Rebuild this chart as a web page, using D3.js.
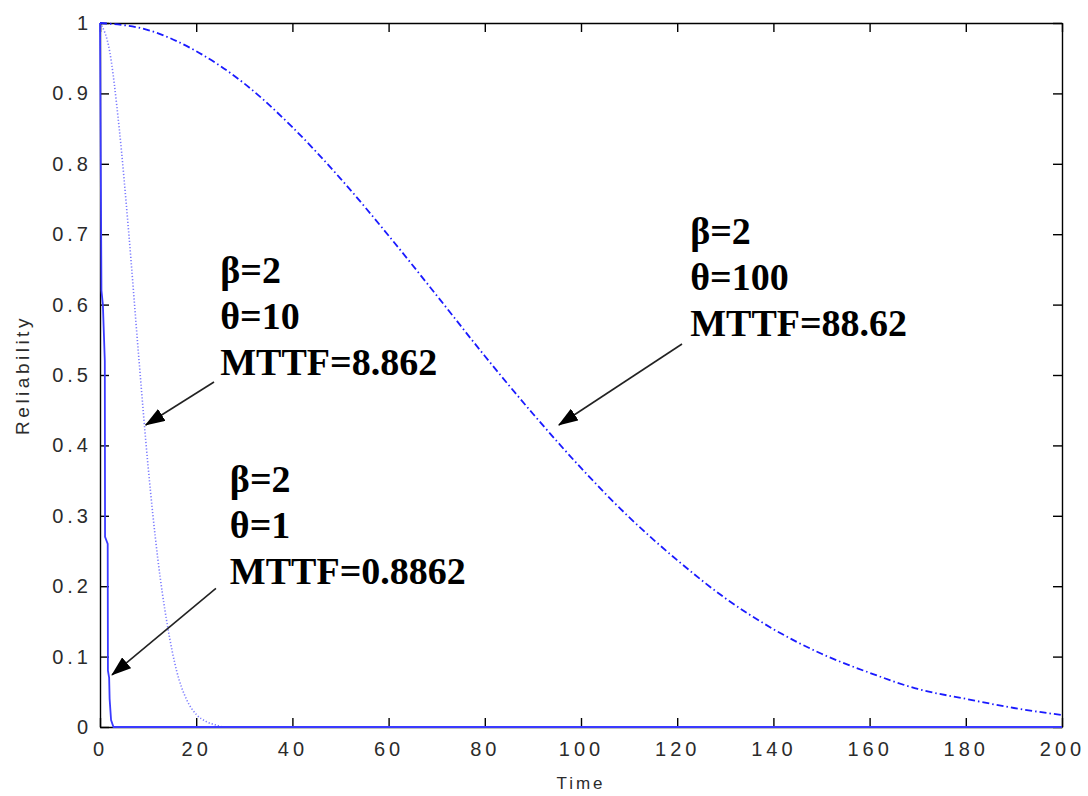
<!DOCTYPE html>
<html>
<head>
<meta charset="utf-8">
<script src="https://cdn.jsdelivr.net/npm/d3@7"></script>
<style>
  body { margin: 0; background: #fff; }
  svg { display: block; }
  .tickLabel text { font-family: "Liberation Sans", Arial, sans-serif; font-size: 20px; fill: #2b2b2b; letter-spacing: 4px; }
  .axisTitle { font-family: "Liberation Sans", Arial, sans-serif; font-size: 17px; fill: #2b2b2b; letter-spacing: 3px; }
  .axisTitle.yTitle { font-size: 19px; letter-spacing: 3.5px; }
  .note { font-family: "Liberation Serif", "Times New Roman", serif; font-size: 38px; font-weight: bold; fill: #000; }
</style>
</head>
<body>
<svg id="chart" width="1088" height="796"></svg>
<script>
// Weibull reliability curves, beta = 2
const timeTicks = [0, 20, 40, 60, 80, 100, 120, 140, 160, 180, 200]
const reliabilityTicks = [0, 0.1, 0.2, 0.3, 0.4, 0.5, 0.6, 0.7, 0.8, 0.9, 1]

// theta = 1, solid
const theta1Time = [0, 0.05, 0.3, 0.6, 1.0, 1.05, 1.6, 1.65, 1.9, 2.0, 2.3, 2.8, 200]
const theta1Rel = [1, 0.945, 0.62, 0.6, 0.52, 0.27, 0.26, 0.08, 0.07, 0.04, 0.01, 0, 0]

// theta = 10, dotted
const theta10Time = [0, 2, 4, 6, 8, 10, 12, 14, 16, 18, 20, 22, 24, 26, 200]
const theta10Rel = [1, 0.96, 0.85, 0.70, 0.53, 0.37, 0.24, 0.145, 0.078, 0.039, 0.018, 0.008, 0.003, 0, 0]

// theta = 100, dash-dot
const theta100Time = [0, 10, 20, 30, 40, 50, 60, 70, 80, 90, 100, 110, 120, 130, 140, 150, 160, 170, 180, 190, 200]
const theta100Rel = [1, 0.99, 0.96, 0.914, 0.852, 0.779, 0.698, 0.613, 0.527, 0.445, 0.368, 0.298, 0.237,
  0.183, 0.139, 0.104, 0.077, 0.054, 0.040, 0.027, 0.017]

// annotation text blocks and arrows, in data units
const noteLines = [
  ["β=2", "θ=10", "MTTF=8.862"],
  ["β=2", "θ=1", "MTTF=0.8862"],
  ["β=2", "θ=100", "MTTF=88.62"]
]
const noteAnchors = [[25.0, 0.631], [27.0, 0.334], [122.7, 0.686]]
const arrowTails = [[23.7, 0.490], [24.1, 0.197], [121.0, 0.544]]
const arrowTips = [[9.5, 0.429], [2.5, 0.074], [95.4, 0.429]]

const margin = { left: 100, right: 26, top: 23, bottom: 69 }
const width = 1088
const height = 796

let svg = d3.select("#chart")

let x = d3.scaleLinear()
  .domain([0, 200])
  .range([margin.left, width - margin.right])

let y = d3.scaleLinear()
  .domain([0, 1])
  .range([height - margin.bottom, margin.top])

let fmt = d => String(+d.toFixed(1))

// Axis box with inward ticks on all four sides
svg.append("g")
  .attr("class", "tickLabel")
  .attr("transform", `translate(0,${y(0)})`)
  .call(d3.axisBottom(x).tickValues(timeTicks).tickFormat(fmt).tickSizeInner(-9).tickSizeOuter(0).tickPadding(15))
svg.append("g")
  .attr("transform", `translate(0,${y(1)})`)
  .call(d3.axisTop(x).tickValues(timeTicks).tickFormat("").tickSizeInner(-9).tickSizeOuter(0))
svg.append("g")
  .attr("class", "tickLabel")
  .attr("transform", `translate(${x(0)},0)`)
  .call(d3.axisLeft(y).tickValues(reliabilityTicks).tickFormat(fmt).tickSizeInner(-9).tickSizeOuter(0).tickPadding(8))
svg.append("g")
  .attr("transform", `translate(${x(200)},0)`)
  .call(d3.axisRight(y).tickValues(reliabilityTicks).tickFormat("").tickSizeInner(-9).tickSizeOuter(0))

svg.selectAll(".domain, .tick line")
  .attr("stroke", "#000")
  .attr("stroke-width", 1.4)

svg.selectAll(".tickLabel text")
  .attr("fill", null)
  .attr("font-family", null)
  .attr("font-size", null)

// Axis titles
svg.append("text")
  .attr("class", "axisTitle")
  .attr("x", (x(0) + x(200)) / 2)
  .attr("y", 789)
  .attr("text-anchor", "middle")
  .text("Time")

svg.append("text")
  .attr("class", "axisTitle yTitle")
  .attr("transform", `translate(29,${(y(0) + y(1)) / 2}) rotate(-90)`)
  .attr("text-anchor", "middle")
  .text("Reliability")

// Curves
let line = curve => d3.line()
  .x(d => x(d[0]))
  .y(d => y(d[1]))
  .curve(curve)

let series = [
  { time: theta10Time, rel: theta10Rel, stroke: "#7a7aff", width: 1.6, dash: "1.2,2", curve: d3.curveMonotoneX },
  { time: theta100Time, rel: theta100Rel, stroke: "#1a1aff", width: 1.8, dash: "7,3,1.5,3", curve: d3.curveMonotoneX },
  { time: theta1Time, rel: theta1Rel, stroke: "#3a3aff", width: 1.8, dash: null, curve: d3.curveLinear }
]

svg.append("g")
  .attr("class", "curves")
  .selectAll("path")
  .data(series)
  .join("path")
  .attr("d", s => line(s.curve)(s.time.map((t, i) => [t, s.rel[i]])))
  .attr("fill", "none")
  .attr("stroke", s => s.stroke)
  .attr("stroke-width", s => s.width)
  .attr("stroke-dasharray", s => s.dash)

// Arrows
svg.append("defs")
  .append("marker")
  .attr("id", "head")
  .attr("viewBox", "0 0 20 14")
  .attr("refX", 19)
  .attr("refY", 7)
  .attr("markerWidth", 20)
  .attr("markerHeight", 14)
  .attr("markerUnits", "userSpaceOnUse")
  .attr("orient", "auto")
  .append("path")
  .attr("d", "M0,0 L20,7 L0,14 Z")
  .attr("fill", "#000")

svg.append("g")
  .attr("class", "arrows")
  .selectAll("line")
  .data(arrowTails)
  .join("line")
  .attr("x1", d => x(d[0]))
  .attr("y1", d => y(d[1]))
  .attr("x2", (d, i) => x(arrowTips[i][0]))
  .attr("y2", (d, i) => y(arrowTips[i][1]))
  .attr("stroke", "#222")
  .attr("stroke-width", 1.6)
  .attr("marker-end", "url(#head)")

// Annotation text
svg.append("g")
  .attr("class", "notes")
  .selectAll("text")
  .data(noteLines)
  .join("text")
  .attr("class", "note")
  .attr("x", (d, i) => x(noteAnchors[i][0]))
  .attr("y", (d, i) => y(noteAnchors[i][1]))
  .selectAll("tspan")
  .data((d, i) => d.map(s => ({ s, x: x(noteAnchors[i][0]) })))
  .join("tspan")
  .attr("x", d => d.x)
  .attr("dy", (d, i) => i === 0 ? 0 : 46)
  .text(d => d.s)
</script>
</body>
</html>
